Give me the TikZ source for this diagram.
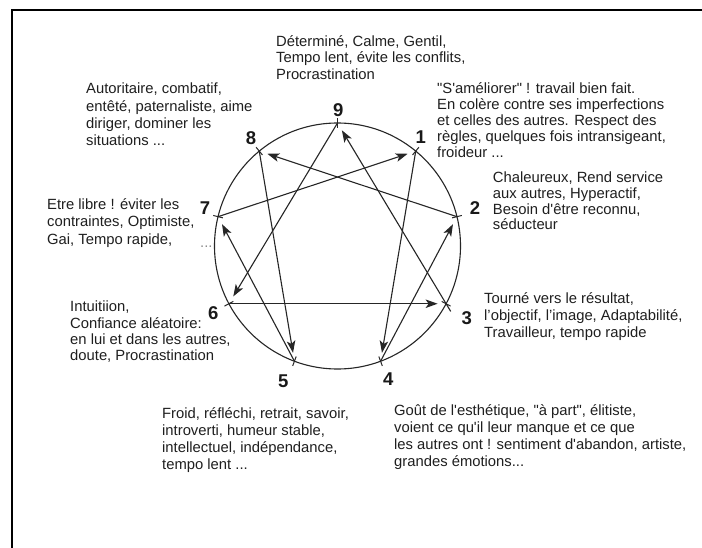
\documentclass[tikz,border=0pt]{standalone}
\usepackage{fontspec}
\setmainfont{Liberation Sans}[Ligatures=TeXOff]
\usetikzlibrary{arrows.meta}
\newcommand{\txtlines}[1]{\begin{tabular}[t]{@{}l@{}}#1\end{tabular}}
\begin{document}
\begin{tikzpicture}[x=1pt,y=-1pt,
  ring/.style={draw=black!85, line width=1.1pt},
  link/.style={draw=black!85, line width=1.1pt, -{Stealth[length=12pt,width=8.5pt,inset=3pt]}, shorten >=8.5pt},
  tickmark/.style={draw=black!85, line width=1pt},
  num/.style={font=\bfseries\fontsize{18.5}{20}\selectfont, inner sep=0pt, text=black!90},
  txt/.style={anchor=base west, inner sep=0pt, text=black!88, font=\fontsize{14.8}{#1}\selectfont},
  txt/.default=16.5,
  borderline/.style={draw=black, line width=2pt}]

\useasboundingbox (0,0) rectangle (702,548);
\fill[white] (0,0) rectangle (702,548);
\draw[borderline] (11.5,548) -- (11.5,10.5) -- (702,10.5);

% circle and points
\coordinate (C) at (337.5,246);
\draw[ring] (C) circle[radius=123];
\foreach \n/\a in {9/90,1/50.5,2/13.8,3/-28,4/-69.5,5/-110.5,6/-152,7/166.2,8/129.5}{
  \coordinate (p\n) at ({337.5+123*cos(\a)},{246-123*sin(\a)});
  \draw[tickmark] ({337.5+118*cos(\a)},{246-118*sin(\a)}) -- ({337.5+128*cos(\a)},{246-128*sin(\a)});
}

% connectors
\draw[link] (p1) -- (p4);
\draw[link] (p4) -- (p2);
\draw[link] (p2) -- (p8);
\draw[link] (p8) -- (p5);
\draw[link] (p5) -- (p7);
\draw[link] (p7) -- (p1);
\draw[link] (p9) -- (p6);
\draw[link] (p6) -- (p3);
\draw[link, shorten <=-9pt] (p3) -- (p9);

% numbers
\node[num] (n9) at (338.3,110) {9};
\node[num] (n8) at (251,138.3) {8};
\node[num] (n1) at (420.7,136.7) {1};
\node[num] (n7) at (205,208.3) {7};
\node[num] (n2) at (475,208.3) {2};
\node[num] (n6) at (213.3,313.3) {6};
\node[num] (n3) at (466.7,318.3) {3};
\node[num] (n5) at (283.3,381.5) {5};
\node[num] (n4) at (388.3,379.5) {4};

% descriptions
\node[txt=16.2] (t9) at (276,46.7) {\txtlines{Déterminé, Calme, Gentil,\\Tempo lent, évite les conflits,\\Procrastination}};
\node[txt=17.2] (t8) at (86,94) {\txtlines{Autoritaire, combatif,\\entêté, paternaliste, aime\\diriger, dominer les\\situations ...}};
\node[txt=16] (t1) at (437,93.5) {\txtlines{"S'améliorer" ! travail bien fait.\\En colère contre ses imperfections\\et celles des autres. Respect des\\règles, quelques fois intransigeant,\\froideur ...}};
\node[txt=17.3] (t7) at (47,209.5) {\txtlines{Etre libre ! éviter les\\contraintes, Optimiste,\\Gai, Tempo rapide,}};
\node[txt, text=black!45] (t7b) at (200,248) {...};
\node[txt=15.8] (t2) at (492.7,182.5) {\txtlines{Chaleureux, Rend service\\aux autres, Hyperactif,\\Besoin d'être reconnu,\\séducteur}};
\node[txt=16.3] (t6) at (70,312) {\txtlines{Intuitiion,\\Confiance aléatoire:\\en lui et dans les autres,\\doute, Procrastination}};
\node[txt=16.8] (t3) at (484,304) {\txtlines{Tourné vers le résultat,\\l’objectif, l’image, Adaptabilité,\\Travailleur, tempo rapide}};
\node[txt=17] (t5) at (162,418) {\txtlines{Froid, réfléchi, retrait, savoir,\\introverti, humeur stable,\\intellectuel, indépendance,\\tempo lent ...}};
\node[txt=17] (t4) at (394,415) {\txtlines{Goût de l'esthétique, "à part", élitiste,\\voient ce qu'il leur manque et ce que\\les autres ont ! sentiment d'abandon, artiste,\\grandes émotions...}};
\end{tikzpicture}
\end{document}
